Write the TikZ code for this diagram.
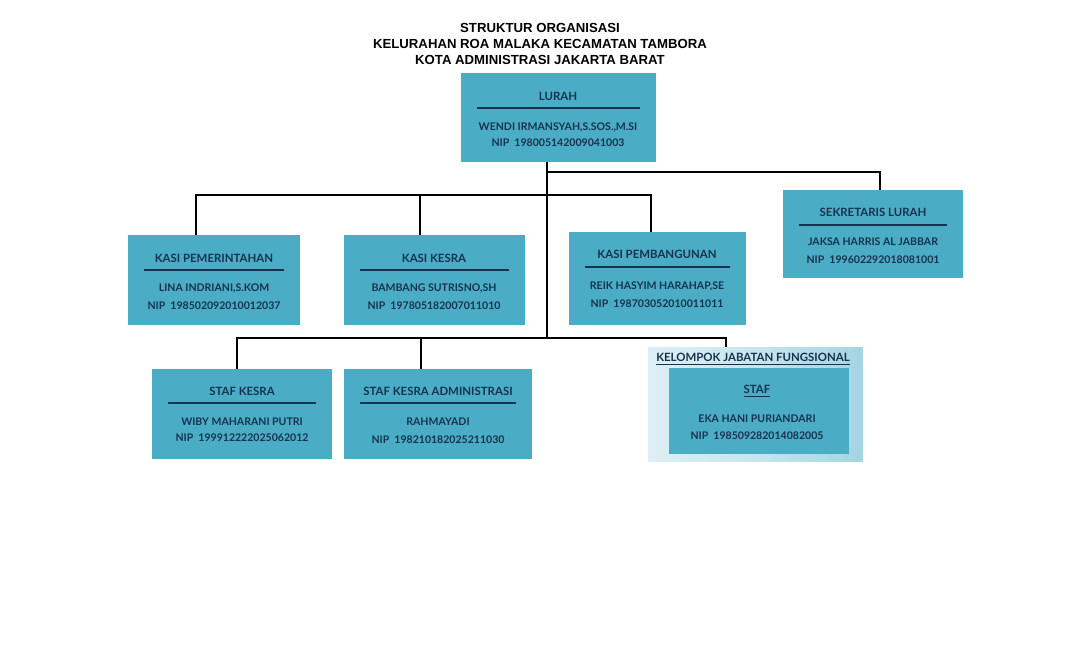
\documentclass[tikz,border=0pt]{standalone}
\usepackage{fontspec}
\setmainfont{Lato}
\newfontfamily\headfont{Liberation Sans}
\definecolor{boxblue}{HTML}{4BACC6}
\definecolor{inktext}{HTML}{17324D}
\definecolor{paleblue}{HTML}{DDEFF5}
\tikzset{
  post/.style={fill=boxblue, draw=none},
  ttl/.style={font=\fontsize{6.5}{8}\selectfont\bfseries, text=inktext},
  txt/.style={font=\fontsize{6}{8}\selectfont\bfseries, text=inktext},
  link/.style={line width=1.2pt, black}
}
\begin{document}
\begin{tikzpicture}[x=0.02cm, y=-0.02cm]
  \useasboundingbox (0,0) rectangle (1080,654);
  % header
  \node[font=\headfont\fontsize{7.5}{9}\selectfont\bfseries, align=center] (hdr) at (540,44)
       {STRUKTUR ORGANISASI\\KELURAHAN ROA MALAKA KECAMATAN TAMBORA\\KOTA ADMINISTRASI JAKARTA BARAT};
  % boxes
  \fill[post] (461,73) rectangle (656,162);
  \fill[post] (783,190) rectangle (963,278);
  \fill[post] (128,235) rectangle (300,325);
  \fill[post] (344,235) rectangle (525,325);
  \fill[post] (569,232) rectangle (746,325);
  \fill[post] (152,369) rectangle (332,459);
  \fill[post] (344,369) rectangle (532,459);
  \shade[left color=paleblue, right color=paleblue!60!boxblue, middle color=paleblue!85!boxblue] (648,347) rectangle (863,461);
  \fill[post] (669,368) rectangle (849,454);
  % title rules
  \draw[inktext, thick] (477,108) -- (640,108);
  \draw[inktext, thick] (799,225) -- (947,225);
  \draw[inktext, thick] (144,270) -- (284,270);
  \draw[inktext, thick] (360,270) -- (509,270);
  \draw[inktext, thick] (585,267) -- (730,267);
  \draw[inktext, thick] (168,403) -- (316,403);
  \draw[inktext, thick] (360,403) -- (516,403);
  % texts
  \node[ttl] (lurah) at (558,96) {LURAH};
  \node[txt] (lurahnm) at (558,127) {WENDI IRMANSYAH,S.SOS.,M.SI};
  \node[txt] (lurahnip) at (558,143) {NIP\ \ 198005142009041003};
  \node[ttl] (sek) at (873,212) {SEKRETARIS LURAH};
  \node[txt] (seknm) at (873,242) {JAKSA HARRIS AL JABBAR};
  \node[txt] (seknip) at (873,260) {NIP\ \ 199602292018081001};
  \node[ttl] (pem) at (214,258) {KASI PEMERINTAHAN};
  \node[txt] (pemnm) at (214,288) {LINA INDRIANI,S.KOM};
  \node[txt] (pemnip) at (214,306) {NIP\ \ 198502092010012037};
  \node[ttl] (kes) at (434,258) {KASI KESRA};
  \node[txt] (kesnm) at (434,288) {BAMBANG SUTRISNO,SH};
  \node[txt] (kesnip) at (434,306) {NIP\ \ 197805182007011010};
  \node[ttl] (pbg) at (657,254) {KASI PEMBANGUNAN};
  \node[txt] (pbgnm) at (657,286) {REIK HASYIM HARAHAP,SE};
  \node[txt] (pbgnip) at (657,304) {NIP\ \ 198703052010011011};
  \node[ttl] (sk) at (242,391) {STAF KESRA};
  \node[txt] (sknm) at (242,422) {WIBY MAHARANI PUTRI};
  \node[txt] (sknip) at (242,438) {NIP\ \ 199912222025062012};
  \node[ttl] (ska) at (438,391) {STAF KESRA ADMINISTRASI};
  \node[txt] (skanm) at (438,422) {RAHMAYADI};
  \node[txt] (skanip) at (438,440) {NIP\ \ 198210182025211030};
  \node[ttl] (jf) at (753,359) {\underline{KELOMPOK JABATAN FUNGSIONAL}};
  \node[ttl] (staf) at (757,391) {\underline{STAF}};
  \node[txt] (stafnm) at (757,419) {EKA HANI PURIANDARI};
  \node[txt] (stafnip) at (757,436) {NIP\ \ 198509282014082005};
  % connectors
  \coordinate (top) at (547,162);
  \coordinate (trunk) at (547,338);
  \draw[link] (top) -- (trunk);
  \draw[link] (547,172) -| (880,190);
  \draw[link] (196,235) |- (651,195) -- (651,232);
  \draw[link] (420,195) -- (420,235);
  \draw[link] (237,369) |- (726,338) -- (726,347);
  \draw[link] (421,338) -- (421,369);
\end{tikzpicture}
\end{document}
